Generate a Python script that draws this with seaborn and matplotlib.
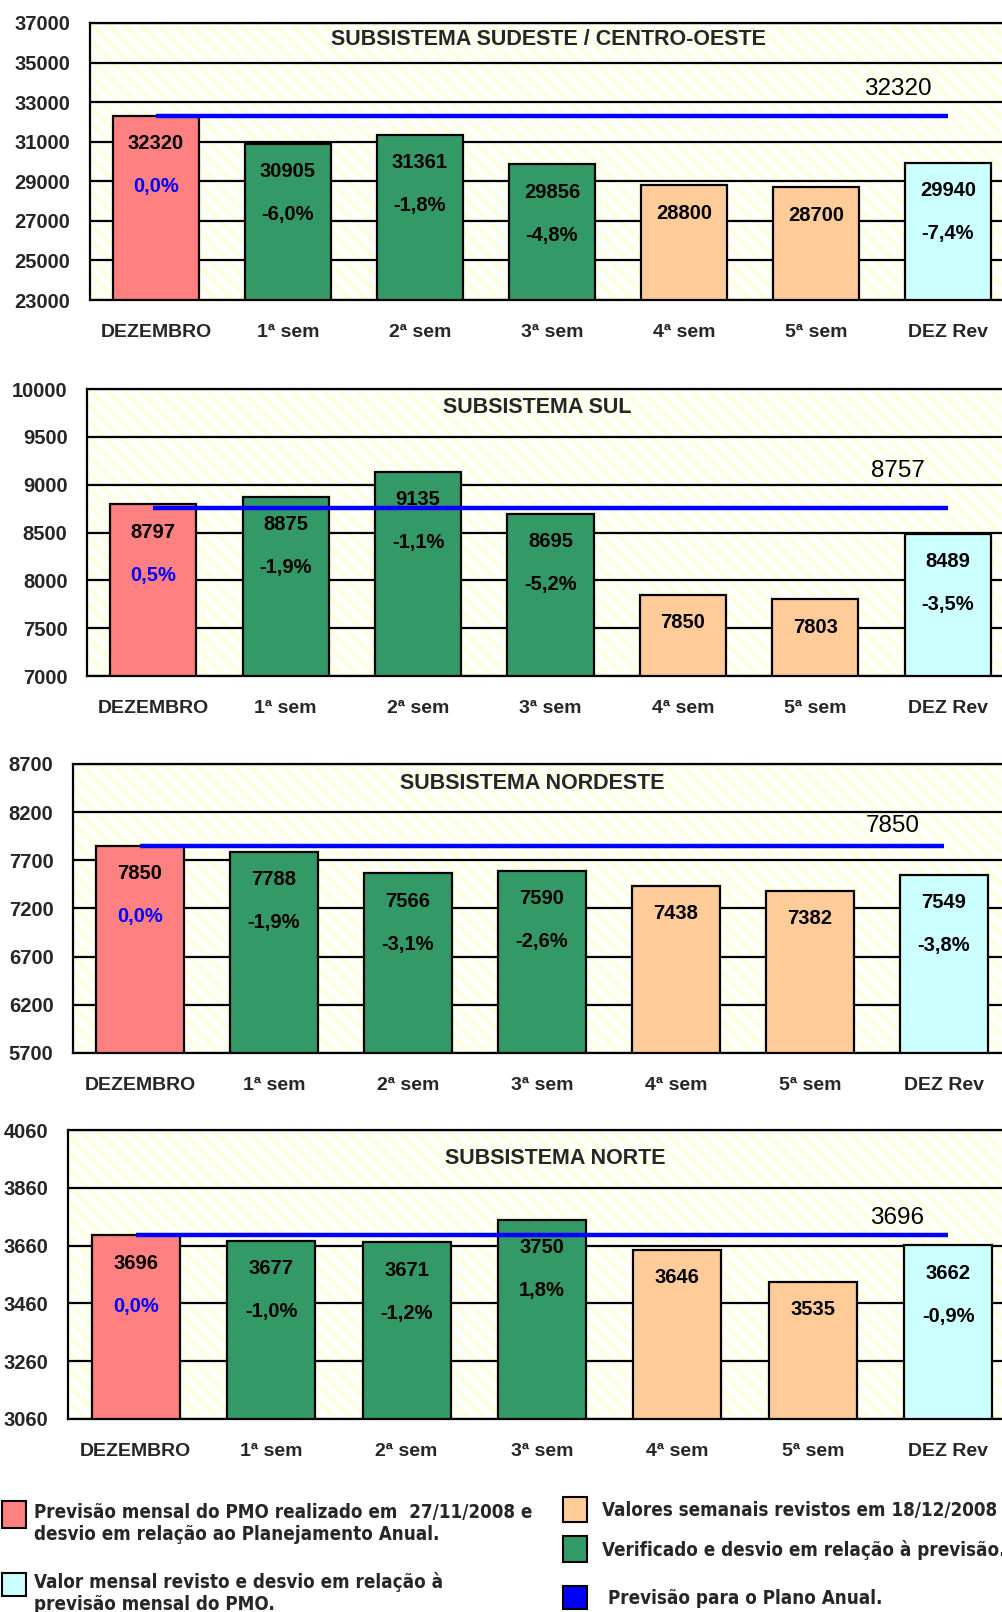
import matplotlib
matplotlib.use("Agg")
import matplotlib.pyplot as plt
from matplotlib.patches import Rectangle
import seaborn as sns

sns.set_style("white")
plt.rcParams["font.family"] = ["Liberation Sans", "DejaVu Sans"]
plt.rcParams["hatch.linewidth"] = 2.5

# ---- data -------------------------------------------------------------
categorias = ["DEZEMBRO", "1ª sem", "2ª sem", "3ª sem", "4ª sem", "5ª sem", "DEZ Rev"]

sudeste_vals = [32320, 30905, 31361, 29856, 28800, 28700, 29940]
sudeste_desvio = ["0,0%", "-6,0%", "-1,8%", "-4,8%", "", "", "-7,4%"]
sudeste_plano = 32320
sudeste_yticks = [23000, 25000, 27000, 29000, 31000, 33000, 35000, 37000]

sul_vals = [8797, 8875, 9135, 8695, 7850, 7803, 8489]
sul_desvio = ["0,5%", "-1,9%", "-1,1%", "-5,2%", "", "", "-3,5%"]
sul_plano = 8757
sul_yticks = [7000, 7500, 8000, 8500, 9000, 9500, 10000]

nordeste_vals = [7850, 7788, 7566, 7590, 7438, 7382, 7549]
nordeste_desvio = ["0,0%", "-1,9%", "-3,1%", "-2,6%", "", "", "-3,8%"]
nordeste_plano = 7850
nordeste_yticks = [5700, 6200, 6700, 7200, 7700, 8200, 8700]

norte_vals = [3696, 3677, 3671, 3750, 3646, 3535, 3662]
norte_desvio = ["0,0%", "-1,0%", "-1,2%", "1,8%", "", "", "-0,9%"]
norte_plano = 3696
norte_yticks = [3060, 3260, 3460, 3660, 3860, 4060]

titulos = ["SUBSISTEMA SUDESTE / CENTRO-OESTE", "SUBSISTEMA SUL",
           "SUBSISTEMA NORDESTE", "SUBSISTEMA NORTE"]

# ---- styles -----------------------------------------------------------
ROSA, VERDE, PESSEGO, CIANO, AZUL = "#FF8080", "#339966", "#FFCC99", "#CCFFFF", "#0000FF"
cores_barras = [ROSA, VERDE, VERDE, VERDE, PESSEGO, PESSEGO, CIANO]

W, H = 1002, 1612
fig = plt.figure(figsize=(W / 100, H / 100), dpi=100)
fig.patch.set_facecolor("white")

# panel frames in pixels: left, top, bottom, right
frames = [(90, 23, 300, 1014), (87, 389, 676, 1014),
          (73, 764, 1053, 1011), (68, 1130, 1419, 1016)]
title_pos = [(0.496, 0.942), (0.486, 0.937), (0.49, 0.931), (0.514, 0.90)]
plan_offset = [27, 37, 20, 17]

paineis = [
    (sudeste_vals, sudeste_desvio, sudeste_plano, sudeste_yticks),
    (sul_vals, sul_desvio, sul_plano, sul_yticks),
    (nordeste_vals, nordeste_desvio, nordeste_plano, nordeste_yticks),
    (norte_vals, norte_desvio, norte_plano, norte_yticks),
]

TICK = dict(fontsize=14.5, fontweight="bold")
XLAB = dict(fontsize=14, fontweight="bold")
VAL = dict(fontsize=14.5, fontweight="bold")

for k, (vals, desvio, plano, yticks) in enumerate(paineis):
    l, t, b, r = frames[k]
    ax = fig.add_axes([l / W, 1 - b / H, (r - l) / W, (b - t) / H])
    ax.set_facecolor("#FFFFFA")
    ax.add_patch(Rectangle((0, 0), 1, 1, transform=ax.transAxes, facecolor="none",
                           edgecolor="#FFFFDC", linewidth=0, hatch="\\\\", zorder=0.1))

    sns.barplot(x=categorias, y=vals, hue=categorias, palette=cores_barras,
                saturation=1, legend=False, width=0.65, edgecolor="black",
                linewidth=1.6, ax=ax, zorder=2)
    n = len(categorias)
    ax.set_xlim(-0.5, n - 0.5)
    ax.set_ylim(yticks[0], yticks[-1])
    ax.set_yticks(yticks)
    ax.set_yticklabels([str(v) for v in yticks], **TICK)

    # category boundaries carry the tick marks, centres carry the labels
    ax.set_xticks([i - 0.5 for i in range(n + 1)])
    ax.set_xticklabels([""] * (n + 1))
    ax.set_xticks(range(n), minor=True)
    ax.set_xticklabels(categorias, minor=True, **XLAB)
    ax.tick_params(axis="x", which="major", direction="out", length=7, width=1.5, color="black")
    ax.tick_params(axis="x", which="minor", length=0, pad=17)
    ax.tick_params(axis="y", direction="out", length=7, width=1.5, color="black", pad=7)
    ax.set_xlabel("")
    ax.set_ylabel("")

    ax.set_axisbelow(True)
    ax.yaxis.grid(True, color="black", linewidth=1.6)
    ax.xaxis.grid(False)
    for s in ax.spines.values():
        s.set_color("black")
        s.set_linewidth(1.6)

    # annual plan line
    ax.hlines(plano, 0, n - 1, color=AZUL, linewidth=3.2, zorder=3)
    ax.annotate(str(plano), xy=(5.62, plano), xytext=(0, plan_offset[k]),
                textcoords="offset pixels", ha="center", va="center", fontsize=17.5,
                color="black", zorder=4)

    for i, v in enumerate(vals):
        ax.annotate(str(v), xy=(i, v), xytext=(0, -28), textcoords="offset pixels",
                    ha="center", va="center", color="black", zorder=4, **VAL)
        if desvio[i]:
            ax.annotate(desvio[i], xy=(i, v), xytext=(0, -71), textcoords="offset pixels",
                        ha="center", va="center", zorder=4,
                        color=AZUL if i == 0 else "black", **VAL)

    ax.text(title_pos[k][0], title_pos[k][1], titulos[k], transform=ax.transAxes,
            ha="center", va="center", fontsize=15.5, fontweight="bold", zorder=4)

# ---- legend -----------------------------------------------------------
LEG = dict(fontsize=13.5, fontweight="bold", fontstretch="condensed",
           family=["DejaVu Sans"])
legenda = [
    ((2, 1501, 26, 1528), ROSA, 34, 1512,
     ["Previsão mensal do PMO realizado em  27/11/2008 e",
      "desvio em relação ao Planejamento Anual."]),
    ((2, 1573, 26, 1596), CIANO, 34, 1582,
     ["Valor mensal revisto e desvio em relação à",
      "previsão mensal do PMO."]),
    ((563, 1497, 587, 1522), PESSEGO, 602, 1510,
     ["Valores semanais revistos em 18/12/2008"]),
    ((563, 1536, 587, 1562), VERDE, 602, 1550,
     ["Verificado e desvio em relação à previsão."]),
    ((563, 1586, 587, 1609), AZUL, 608, 1599,
     ["Previsão para o Plano Anual."]),
]
for (x0, y0, x1, y1), cor, tx, ty, linhas in legenda:
    fig.add_artist(Rectangle((x0 / W, 1 - y1 / H), (x1 - x0) / W, (y1 - y0) / H,
                             transform=fig.transFigure, facecolor=cor,
                             edgecolor="black", linewidth=1.5))
    for j, linha in enumerate(linhas):
        fig.text(tx / W, 1 - (ty + 22 * j) / H, linha, ha="left", va="center", **LEG)

fig.savefig("out.png", dpi=100)
